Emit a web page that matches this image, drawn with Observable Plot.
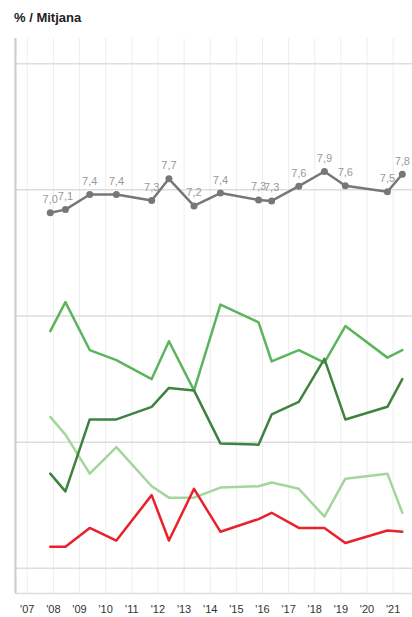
<!DOCTYPE html>
<html>
<head>
<meta charset="utf-8">
<script src="https://cdn.jsdelivr.net/npm/d3@7"></script>
<script src="https://cdn.jsdelivr.net/npm/@observablehq/plot@0.6"></script>
<style>
  html, body { margin: 0; padding: 0; background: #fff; }
  body { width: 412px; height: 617px; overflow: hidden; font-family: "Liberation Sans", Arial, sans-serif; }
  #title { height: 18px; padding: 10px 0 0 14px; font-size: 13px; line-height: 16px; color: #222; font-weight: 600; }
</style>
</head>
<body>
<div id="title">% / Mitjana</div>
<div id="chart"></div>
<script>
// Survey dates (decimal years)
const dates = [2007.88, 2008.46, 2009.39, 2010.41, 2011.76, 2012.42, 2013.38, 2014.39, 2015.85, 2016.35, 2017.39, 2018.37, 2019.17, 2020.78, 2021.35];
// Mitjana (mean, 0-10 scale)
const mitjana = [7.00, 7.07, 7.40, 7.40, 7.27, 7.74, 7.15, 7.43, 7.28, 7.26, 7.58, 7.90, 7.59, 7.46, 7.84];
// Percentages
const serieVerdMig = [18.8, 21.1, 17.3, 16.5, 15.0, 18.0, 14.1, 20.9, 19.5, 16.4, 17.3, 16.3, 19.2, 16.7, 17.3];
const serieVerdFosc = [7.5, 6.1, 11.8, 11.8, 12.8, 14.3, 14.1, 9.9, 9.8, 12.2, 13.2, 16.6, 11.8, 12.8, 15.0];
const serieVerdClar = [12.0, 10.6, 7.5, 9.6, 6.5, 5.6, 5.6, 6.4, 6.5, 6.8, 6.3, 4.1, 7.1, 7.5, 4.4];
const serieVermell = [1.7, 1.7, 3.2, 2.2, 5.8, 2.2, 6.3, 2.9, 3.9, 4.4, 3.2, 3.2, 2.0, 3.0, 2.9];
// Axis
const tickYears = [2007, 2008, 2009, 2010, 2011, 2012, 2013, 2014, 2015, 2016, 2017, 2018, 2019, 2020, 2021];
const gridPct = [0, 10, 20, 30, 40];
const xDomain = [2006.55, 2021.74];
const yDomain = [-2, 42];
// The mean is drawn on its own axis: 7.5 aligned with the 30% gridline, 1 point = 3.64 %
const meanRef = 7.5, meanRefPct = 30, meanUnitPct = 3.64;

const series = (vals) => dates.map((d, i) => ({date: d, value: vals[i]}));
const meanData = dates.map((d, i) => ({date: d, mean: mitjana[i], value: meanRefPct + (mitjana[i] - meanRef) * meanUnitPct}));
const fmt = (v) => d3.format(".1f")(v).replace(".", ",");

const chart = Plot.plot({
  width: 412,
  height: 589,
  marginLeft: 15,
  marginRight: 0,
  marginTop: 10,
  marginBottom: 24,
  style: {fontFamily: "Liberation Sans, Arial, sans-serif", background: "#fff"},
  x: {domain: xDomain, axis: null},
  y: {domain: yDomain, axis: null},
  marks: [
    Plot.ruleX(tickYears, {stroke: "#eeeeee", strokeWidth: 1}),
    Plot.ruleY(gridPct, {stroke: "#dddddd", strokeWidth: 1.5}),
    Plot.ruleY([yDomain[0]], {stroke: "#dddddd", strokeWidth: 1.5}),
    Plot.ruleX([xDomain[0]], {stroke: "#cccccc", strokeWidth: 2}),
    Plot.axisX({ticks: tickYears, tickSize: 0, tickPadding: 12, tickFormat: d => "'" + String(d).slice(2), fontSize: 11, fill: "#333", label: null}),
    Plot.line(series(serieVerdClar), {x: "date", y: "value", stroke: "#a3d69b", strokeWidth: 2.5}),
    Plot.line(series(serieVermell), {x: "date", y: "value", stroke: "#e8212b", strokeWidth: 2.5}),
    Plot.line(series(serieVerdMig), {x: "date", y: "value", stroke: "#5cb45c", strokeWidth: 2.5}),
    Plot.line(series(serieVerdFosc), {x: "date", y: "value", stroke: "#3e833e", strokeWidth: 2.5}),
    Plot.line(meanData, {x: "date", y: "value", stroke: "#777", strokeWidth: 2.5}),
    Plot.dot(meanData, {x: "date", y: "value", fill: "#777", r: 3.5}),
    Plot.text(meanData, {x: "date", y: "value", text: d => fmt(d.mean), dy: -13, fill: "#999", fontSize: 11})
  ]
});
document.getElementById("chart").appendChild(chart);
</script>
</body>
</html>
